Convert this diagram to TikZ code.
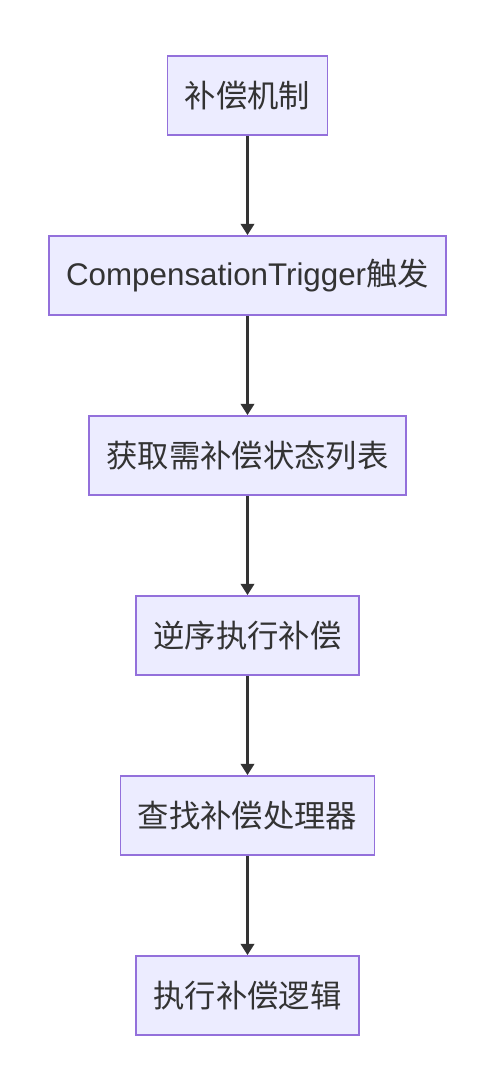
\documentclass[tikz,border=0pt]{standalone}
\usepackage{fontspec}
\setmainfont{Liberation Sans}
\newfontfamily\cjk{Noto Sans CJK SC}
\usetikzlibrary{arrows.meta,positioning}
\definecolor{boxfill}{HTML}{ECECFF}
\definecolor{boxline}{HTML}{9370DB}
\definecolor{ink}{HTML}{333333}

\begin{document}
\begin{tikzpicture}[x=0.75pt,y=0.75pt,font=\fontsize{23.5}{28}\selectfont,
  stepbox/.style={draw=boxline,fill=boxfill,line width=1.3pt,text=ink,
    minimum height=59.25pt,inner xsep=13pt},
  flow/.style={ink,line width=2.25pt,-{Triangle[length=8.5pt,width=10pt]}},
  node distance=74.45pt]
\useasboundingbox (0,0) rectangle (500,-1066);
\node[stepbox] (mech) at (247.5,-95.5) {\cjk 补偿机制};
\node[stepbox,below=of mech] (trigger) {Compensation\-Trigger{\cjk 触发}};
\node[stepbox,below=of trigger] (states) {\cjk 获取需补偿状态列表};
\node[stepbox,below=of states] (reverse) {\cjk 逆序执行补偿};
\node[stepbox,below=of reverse] (handler) {\cjk 查找补偿处理器};
\node[stepbox,below=of handler] (logic) {\cjk 执行补偿逻辑};
\draw[flow] (mech) -- (trigger);
\draw[flow] (trigger) -- (states);
\draw[flow] (states) -- (reverse);
\draw[flow] (reverse) -- (handler);
\draw[flow] (handler) -- (logic);
\end{tikzpicture}
\end{document}
